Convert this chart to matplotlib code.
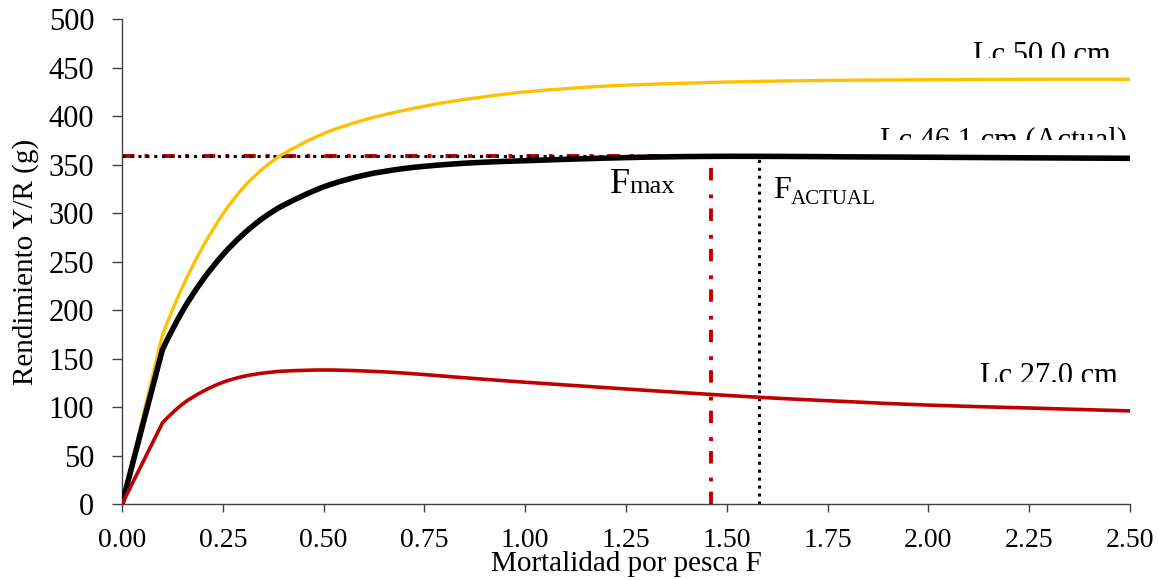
import matplotlib.pyplot as plt
from matplotlib.patches import Rectangle, PathPatch
from matplotlib.path import Path

plt.rcParams['font.family'] = ['Liberation Serif', 'DejaVu Serif']

# Mortalidad por pesca F y rendimiento por recluta (g) para cada talla de primera captura
F = [0.0, 0.1, 0.15, 0.2, 0.25, 0.3, 0.35, 0.4, 0.5, 0.6, 0.7, 0.8, 0.9,
     1.0, 1.2, 1.4, 1.6, 1.8, 2.0, 2.25, 2.5]
yr_lc50 = [0, 174, 224, 265, 299, 326, 346, 361, 382, 396, 406, 414, 420,
           425, 431, 434, 436, 437, 437.5, 438, 438]
yr_lc461 = [0, 159, 199, 231, 257, 278, 295, 308, 327, 339, 346, 350, 352.5,
            354, 356.7, 358.3, 358.5, 358, 357.6, 357, 356.5]
yr_lc27 = [0, 83.5, 103, 116, 125.5, 131.5, 135, 137, 138.2, 137.2, 135, 131.8, 128.6,
           125.6, 120, 114.6, 109.6, 105.6, 102, 99, 96]

etiquetas = ['Lc 50.0 cm', 'Lc 46.1 cm (Actual)', 'Lc 27.0 cm']
colores = ['#FFC000', '#000000', '#C00000']
grosores = [2.4, 4.0, 2.6]

# Puntos de referencia
f_max = 1.46
f_actual = 1.58
yr_max = 358.7

# posicion de las etiquetas (x, linea base, corte inferior)
pos_etiquetas = [(2.28, 454.6, 459.8), (2.185, 367.0, 375.3), (2.298, 123.7, 125.8)]


# Linea suavizada: tramo recto hasta el segundo punto y luego curvas de Bezier
def curva_suave(x, y):
    n = len(x)
    m = [0.0] * n
    for i in range(2, n - 1):
        m[i] = (y[i + 1] - y[i - 1]) / (x[i + 1] - x[i - 1])
    h1, h2 = x[2] - x[1], x[3] - x[2]
    s1, s2 = (y[2] - y[1]) / h1, (y[3] - y[2]) / h2
    m[1] = ((2 * h1 + h2) * s1 - h1 * s2) / (h1 + h2)
    m[n - 1] = (y[n - 1] - y[n - 2]) / (x[n - 1] - x[n - 2])
    verts = [(x[0], y[0]), (x[1], y[1])]
    codes = [Path.MOVETO, Path.LINETO]
    for i in range(1, n - 1):
        h = x[i + 1] - x[i]
        verts += [(x[i] + h / 3, y[i] + m[i] * h / 3),
                  (x[i + 1] - h / 3, y[i + 1] - m[i + 1] * h / 3),
                  (x[i + 1], y[i + 1])]
        codes += [Path.CURVE4] * 3
    return Path(verts, codes)


fig = plt.figure(figsize=(11.59, 5.80), dpi=100)
ax = fig.add_axes([0.1053, 0.131, 0.8697, 0.836])

# lineas de referencia Fmax / Factual
ax.plot([0, f_max], [yr_max, yr_max], color='#C00000', lw=2.8,
        dashes=(3.2, 2.6, 1, 3.6), zorder=1)
ax.plot([0, f_max], [yr_max, yr_max], color='black', lw=2.2,
        dashes=(1, 1.6), zorder=1)
ax.plot([f_max, f_max], [0, yr_max], color='#C00000', lw=2.8,
        dashes=(3.2, 2.6, 1, 3.6), zorder=1)
ax.plot([f_actual, f_actual], [0, yr_max], color='black', lw=2.2,
        dashes=(1, 1.6), zorder=1)

series = [yr_lc50, yr_lc461, yr_lc27]
for yr, col, lw in zip(series, colores, grosores):
    ax.add_patch(PathPatch(curva_suave(F, yr), fill=False, edgecolor=col,
                           lw=lw, zorder=3, joinstyle='miter'))

for txt, (x, yb, ycorte) in zip(etiquetas, pos_etiquetas):
    t = ax.text(x, yb, txt, fontsize=22, ha='center', va='baseline', clip_on=True)
    t.set_clip_path(Rectangle((0, ycorte), 2.5, 500 - ycorte, transform=ax.transData))

# textos Fmax y FACTUAL
tf = ax.text(1.21, 320.6, 'F', fontsize=26, ha='left', va='baseline')
ax.annotate('max', xy=(1, 320.6), xycoords=(tf, 'data'), fontsize=19,
            ha='left', va='baseline')
tf2 = ax.text(1.615, 315.5, 'F', fontsize=23, ha='left', va='baseline')
ax.annotate('ACTUAL', xy=(1, 309.5), xycoords=(tf2, 'data'), fontsize=15,
            ha='left', va='baseline')

ax.set_xlim(0, 2.5)
ax.set_ylim(0, 500)
ax.set_xticks([0, 0.25, 0.5, 0.75, 1.0, 1.25, 1.5, 1.75, 2.0, 2.25, 2.5])
ax.set_xticklabels(['0.00', '0.25', '0.50', '0.75', '1.00', '1.25', '1.50',
                    '1.75', '2.00', '2.25', '2.50'])
ax.set_yticks(range(0, 501, 50))

for s in ['top', 'right']:
    ax.spines[s].set_visible(False)
for s in ['left', 'bottom']:
    ax.spines[s].set_linewidth(1.0)
    ax.spines[s].set_color('#404040')

ax.tick_params(axis='x', direction='out', length=6, width=1, pad=11,
               labelsize=20, color='#404040')
ax.tick_params(axis='y', direction='out', length=7, width=1, pad=13,
               labelsize=22, color='#404040')

ax.set_xlabel('Mortalidad por pesca F', fontsize=21)
ax.set_ylabel('Rendimiento Y/R (g)', fontsize=21)
ax.xaxis.set_label_coords(0.5, -0.097)
ax.yaxis.set_label_coords(-0.082, 0.5)

fig.savefig('out.png', dpi=100)
